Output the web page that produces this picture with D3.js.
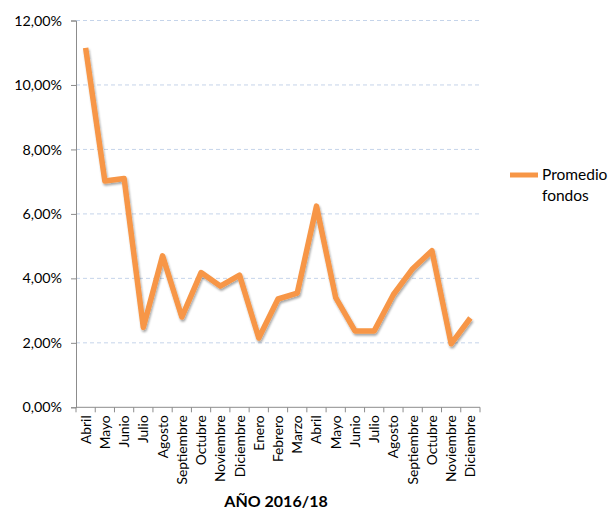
<!DOCTYPE html>
<html>
<head>
<meta charset="utf-8">
<script src="https://cdn.jsdelivr.net/npm/d3@7"></script>
<style>
    body { margin: 0; background: #fff; }
    text { font-family: Lato, "Open Sans", sans-serif; fill: #000; }
</style>
</head>
<body>
<div id="chart"></div>
<script>
const months = ["Abril", "Mayo", "Junio", "Julio", "Agosto", "Septiembre", "Octubre", "Noviembre", "Diciembre",
    "Enero", "Febrero", "Marzo", "Abril", "Mayo", "Junio", "Julio", "Agosto", "Septiembre", "Octubre", "Noviembre", "Diciembre"];
const promedio = [11.15, 7.02, 7.1, 2.48, 4.7, 2.8, 4.18, 3.76, 4.1,
    2.15, 3.36, 3.54, 6.24, 3.4, 2.37, 2.37, 3.5, 4.3, 4.86, 1.97, 2.77];
const yTicks = [0, 2, 4, 6, 8, 10, 12];
const seriesName = ["Promedio", "fondos"];
const axisTitle = "AÑO 2016/18";

const W = 610, H = 512;
const plot = { left: 76, right: 480, top: 20.5, bottom: 407.3 };

const svg = d3.select("#chart").append("svg")
    .attr("width", W).attr("height", H);

const x = d3.scaleBand().domain(d3.range(months.length))
    .range([plot.left, plot.right]);
const y = d3.scaleLinear().domain([0, 12]).range([plot.bottom, plot.top]);

const fmt = v => v.toFixed(2).replace(".", ",") + "%";

// grid
svg.append("g").selectAll("line")
    .data(yTicks.filter(d => d > 0))
    .join("line")
    .attr("x1", plot.left).attr("x2", plot.right)
    .attr("y1", d => y(d)).attr("y2", d => y(d))
    .attr("stroke", "#c5d4ea").attr("stroke-width", 1)
    .attr("stroke-dasharray", "4,3");

// y axis
const yAxis = svg.append("g")
    .attr("transform", `translate(${plot.left},0)`)
    .call(d3.axisLeft(y).tickValues(yTicks).tickFormat(fmt).tickSize(5).tickPadding(9));
yAxis.select(".domain").attr("stroke", "#8c8c8c");
yAxis.selectAll(".tick line").attr("stroke", "#8c8c8c");
yAxis.selectAll("text").attr("font-size", 14.3).style("font-family", "Lato, 'Open Sans', sans-serif");

// x axis
const xAxis = svg.append("g")
    .attr("transform", `translate(0,${plot.bottom})`);
xAxis.append("line")
    .attr("x1", plot.left).attr("x2", plot.right)
    .attr("stroke", "#8c8c8c");
xAxis.selectAll(".xt")
    .data(d3.range(months.length + 1))
    .join("line")
    .attr("class", "xt")
    .attr("x1", i => plot.left + i * x.step()).attr("x2", i => plot.left + i * x.step())
    .attr("y1", 0).attr("y2", 5)
    .attr("stroke", "#8c8c8c");
xAxis.selectAll(".xl")
    .data(months)
    .join("text")
    .attr("class", "xl")
    .attr("transform", (d, i) => `translate(${x(i) + x.bandwidth() / 2 + 5},8) rotate(-90)`)
    .attr("text-anchor", "end")
    .attr("font-size", 13.8)
    .text(d => d);

svg.append("text")
    .attr("x", 276).attr("y", 507)
    .attr("text-anchor", "middle")
    .attr("font-size", 16).attr("font-weight", "bold")
    .text(axisTitle);

// shadow
const defs = svg.append("defs");
const f = defs.append("filter").attr("id", "sh")
    .attr("x", "-10%").attr("y", "-10%").attr("width", "120%").attr("height", "120%");
f.append("feDropShadow").attr("dx", 1).attr("dy", 2).attr("stdDeviation", 1.3)
    .attr("flood-color", "#000").attr("flood-opacity", 0.35);

const line = d3.line()
    .x((d, i) => x(i) + x.bandwidth() / 2)
    .y(d => y(d));

svg.append("path")
    .datum(promedio)
    .attr("d", line)
    .attr("fill", "none")
    .attr("stroke", "#f79646")
    .attr("stroke-width", 5.5)
    .attr("stroke-linejoin", "round")
    .attr("filter", "url(#sh)");

// legend
const lg = svg.append("g");
lg.append("line")
    .attr("x1", 510).attr("x2", 538).attr("y1", 175).attr("y2", 175)
    .attr("stroke", "#f79646").attr("stroke-width", 5);
lg.selectAll("text")
    .data(seriesName)
    .join("text")
    .attr("x", 542).attr("y", (d, i) => 180 + i * 21)
    .attr("font-size", 15.5)
    .text(d => d);
</script>
</body>
</html>
